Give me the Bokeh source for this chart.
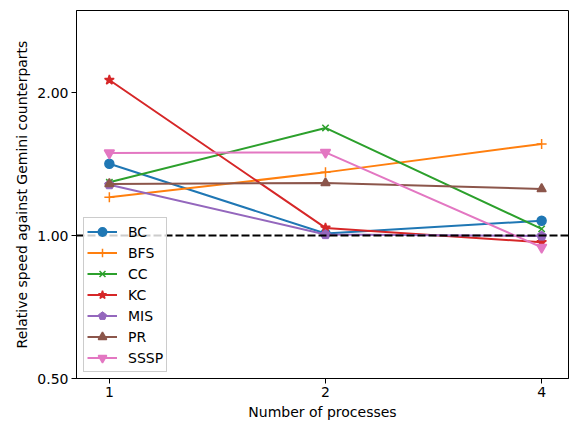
from bokeh.plotting import figure
from bokeh.models import Range1d, FixedTicker, Span, Legend, LegendItem
from bokeh.embed import file_html
from bokeh.resources import INLINE

procs = [1, 2, 4]
series_names = ["BC", "BFS", "CC", "KC", "MIS", "PR", "SSSP"]
bc = [1.417, 1.01, 1.075]
bfs = [1.204, 1.359, 1.56]
cc = [1.295, 1.686, 1.033]
kc = [2.127, 1.038, 0.968]
mis = [1.28, 1.005, 0.998]
pr = [1.285, 1.291, 1.254]
sssp = [1.493, 1.497, 0.945]
y_ticks = [0.5, 1.0, 2.0]
y_tick_labels = ["0.50", "1.00", "2.00"]
x_ticks = [1, 2, 4]
x_tick_labels = ["1", "2", "4"]

values = [bc, bfs, cc, kc, mis, pr, sssp]
colors = ["#1f77b4", "#ff7f0e", "#2ca02c", "#d62728", "#9467bd", "#8c564b", "#e377c2"]
markers = ["circle", "cross", "x", "star", "pentagon", "triangle", "inverted_triangle"]
sizes = [9, 10, 9, 10, 9, 9, 10]

FONT = "DejaVu Sans"

p = figure(width=569, height=423, x_axis_type="log", y_axis_type="log",
           output_backend="svg", toolbar_location=None,
           min_border_left=76, min_border_right=1, min_border_top=10, min_border_bottom=45)
p.x_range = Range1d(0.90, 4.36)
p.y_range = Range1d(0.5, 2.98)
p.xgrid.visible = False
p.ygrid.visible = False
p.outline_line_color = "black"
p.outline_line_width = 1
p.background_fill_color = "white"
p.border_fill_color = "white"

p.xaxis.ticker = FixedTicker(ticks=x_ticks, minor_ticks=[])
p.yaxis.ticker = FixedTicker(ticks=y_ticks, minor_ticks=[])
p.xaxis.major_label_overrides = {t: l for t, l in zip(x_ticks, x_tick_labels)}
p.yaxis.major_label_overrides = {t: l for t, l in zip(y_ticks, y_tick_labels)}
for ax in (p.xaxis, p.yaxis):
    ax.major_tick_out = 5
    ax.major_tick_in = 0
    ax.minor_tick_out = 0
    ax.minor_tick_in = 0
    ax.axis_line_color = "black"
    ax.major_tick_line_color = "black"
    ax.major_label_text_font = FONT
    ax.major_label_text_font_size = "14px"
    ax.major_label_text_color = "black"
    ax.axis_label_text_font = FONT
    ax.axis_label_text_font_size = "14px"
    ax.axis_label_text_font_style = "normal"
    ax.axis_label_text_color = "black"
p.xaxis.axis_label = "Number of processes"
p.yaxis.axis_label = "Relative speed against Gemini counterparts"
p.xaxis.axis_label_standoff = 4
p.yaxis.axis_label_standoff = 4
p.xaxis.major_label_standoff = 3
p.yaxis.major_label_standoff = 3

p.add_layout(Span(location=1.0, dimension="width", line_color="black",
                  line_dash="8 3", line_width=2))

items = []
for name, vals, c, m, s in zip(series_names, values, colors, markers, sizes):
    r1 = p.line(procs, vals, line_color=c, line_width=2)
    if m == "pentagon":
        if hasattr(p, "ngon"):
            r2 = p.ngon(x=procs, y=vals, radius=5, radius_units="screen", n=5,
                        fill_color=c, line_color=c, line_width=1)
        else:
            r2 = p.scatter(procs, vals, marker="hex", size=s, fill_color=c, line_color=c)
    else:
        r2 = p.scatter(procs, vals, marker=m, size=s, fill_color=c, line_color=c, line_width=1.5)
    items.append(LegendItem(label=name, renderers=[r1, r2]))

legend = Legend(items=items, location=(7, 6))
legend.label_text_font = FONT
legend.label_text_font_size = "14px"
legend.label_text_color = "black"
legend.border_line_color = "#cccccc"
legend.border_line_alpha = 1
legend.background_fill_alpha = 0.8
legend.spacing = 0
legend.padding = 3
legend.margin = 0
legend.glyph_width = 30
legend.glyph_height = 21
legend.label_height = 21
legend.label_standoff = 11
p.add_layout(legend)

open("out.html", "w").write(file_html(p, INLINE))
